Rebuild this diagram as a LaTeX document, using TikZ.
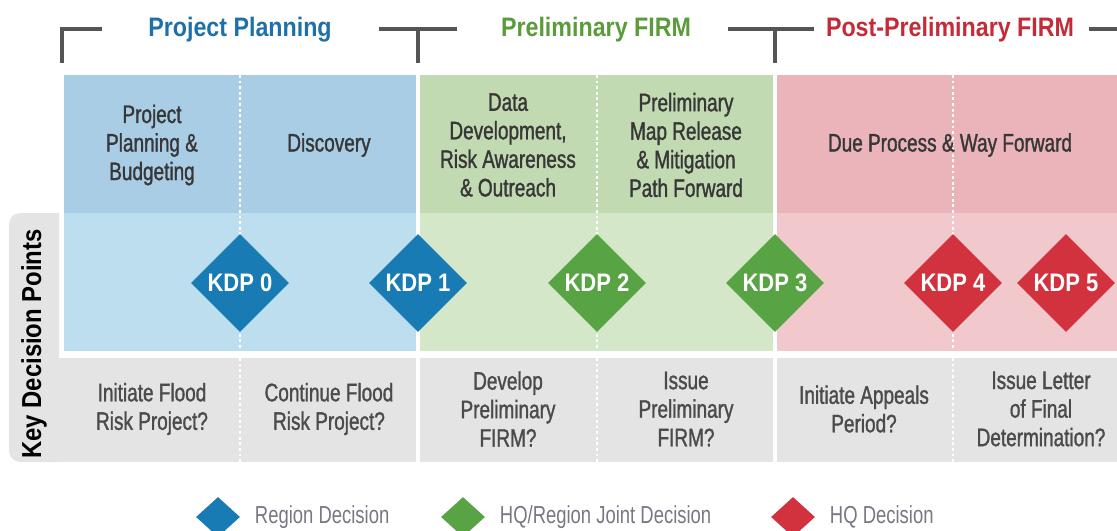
\documentclass[tikz,border=0pt]{standalone}
\usepackage{fontspec}
\setmainfont{Liberation Sans}
\newfontfamily\bodyfont{Liberation Sans}[FakeStretch=0.75,FakeBold=1.2]
\newfontfamily\legendfont{Liberation Sans}[FakeStretch=0.75]
\newfontfamily\headfont{Liberation Sans}[FakeStretch=0.87]
\usetikzlibrary{shapes.geometric}
\definecolor{hdrblue}{RGB}{30,112,170}
\definecolor{hdrgreen}{RGB}{90,156,58}
\definecolor{hdrred}{RGB}{196,42,55}
\definecolor{bluetop}{RGB}{168,205,228}
\definecolor{bluebot}{RGB}{189,222,238}
\definecolor{greentop}{RGB}{194,218,178}
\definecolor{greenbot}{RGB}{212,231,201}
\definecolor{redtop}{RGB}{234,180,186}
\definecolor{redbot}{RGB}{241,200,204}
\definecolor{rowgrey}{RGB}{228,228,228}
\definecolor{kdpblue}{RGB}{24,123,180}
\definecolor{kdpgreen}{RGB}{88,163,68}
\definecolor{kdpred}{RGB}{210,50,62}
\definecolor{textdark}{RGB}{55,55,55}
\definecolor{textrow}{RGB}{75,75,75}
\definecolor{textlegend}{RGB}{120,120,132}
\definecolor{bracketgrey}{RGB}{85,85,85}
\tikzset{
  phase/.style={font=\headfont\bfseries\fontsize{19}{22}\selectfont},
  bracket/.style={draw=bracketgrey,line width=2.8pt},
  steptext/.style={align=center,text=textdark,font=\bodyfont\fontsize{18}{20.3}\selectfont},
  asktext/.style={align=center,text=textrow,font=\bodyfont\fontsize{18}{20.3}\selectfont},
  kdp/.style={diamond,inner sep=0pt,minimum width=2.45cm,minimum height=2.45cm,text=white,font=\headfont\bfseries\fontsize{18}{20}\selectfont},
  legendmark/.style={diamond,inner sep=0pt,minimum width=1.1cm,minimum height=1cm},
  legendtext/.style={anchor=west,text=textlegend,font=\legendfont\fontsize{17.5}{20}\selectfont},
  divider/.style={white,line width=1.5pt,dash pattern=on 2pt off 2pt},
  gapline/.style={white,line width=3pt}
}
\begin{document}
\begin{tikzpicture}[x=0.025cm,y=-0.025cm]
  \useasboundingbox (0,0) rectangle (1117,531);
  \begin{scope}
    \clip (0,0) rectangle (59,531);
    \fill[rowgrey,rounded corners=8pt] (9,213) rectangle (90,462);
  \end{scope}
  \fill[rowgrey] (59,358) rectangle (1117,462);
  \fill[bluetop] (64,75) rectangle (416,213);
  \fill[bluebot] (64,213) rectangle (416,351);
  \fill[greentop] (420,75) rectangle (773,213);
  \fill[greenbot] (420,213) rectangle (773,351);
  \fill[redtop] (777,75) rectangle (1117,213);
  \fill[redbot] (777,213) rectangle (1117,351);
  \draw[divider] (240,75)--(240,351) (597,75)--(597,351) (953,75)--(953,351)
    (240,358)--(240,462) (597,358)--(597,462) (953,358)--(953,462);
  \draw[gapline] (418,358)--(418,462) (775,358)--(775,462);

  \draw[bracket] (62,63)--(62,29)--(102,29)
    (379,29)--(457,29) (418,29)--(418,63)
    (728,29)--(814,29) (775,29)--(775,63)
    (1089,29)--(1117,29);
  \node[phase,text=hdrblue] at (240,30) (planning) {Project Planning};
  \node[phase,text=hdrgreen] at (596,30) (prelim) {Preliminary FIRM};
  \node[phase,text=hdrred] at (950,30) (postprelim) {Post-Preliminary FIRM};

  \node[phase,rotate=90,text=black,font=\headfont\bfseries\fontsize{19.5}{22}\selectfont] at (34,344) (kdplabel) {Key Decision Points};

  \node[steptext] at (152,145) (budget) {Project\\Planning \&\\Budgeting};
  \node[steptext] at (329,145) (discovery) {Discovery};
  \node[steptext] at (508,145) (datadev) {Data\\Development,\\Risk Awareness\\\& Outreach};
  \node[steptext] at (686,145) (release) {Preliminary\\Map Release\\\& Mitigation\\Path Forward};
  \node[steptext] at (950,145) (dueprocess) {Due Process \& Way Forward};

  \node[kdp,fill=kdpblue] at (240,283) (kdp0) {KDP 0};
  \node[kdp,fill=kdpblue] at (418,283) (kdp1) {KDP 1};
  \node[kdp,fill=kdpgreen] at (597,283) (kdp2) {KDP 2};
  \node[kdp,fill=kdpgreen] at (775,283) (kdp3) {KDP 3};
  \node[kdp,fill=kdpred] at (953,283) (kdp4) {KDP 4};
  \node[kdp,fill=kdpred] at (1066,283) (kdp5) {KDP 5};

  \node[asktext] at (152,409) (ask0) {Initiate Flood\\Risk Project?};
  \node[asktext] at (329,409) (ask1) {Continue Flood\\Risk Project?};
  \node[asktext] at (508,409) (ask2) {Develop\\Preliminary\\FIRM?};
  \node[asktext] at (686,409) (ask3) {Issue\\Preliminary\\FIRM?};
  \node[asktext] at (864,409) (ask4) {Initiate Appeals\\Period?};
  \node[asktext] at (1041,409) (ask5) {Issue Letter\\of Final\\Determination?};

  \node[legendmark,fill=kdpblue] at (218,517) (regionmark) {};
  \node[legendtext] at (250,517) (regiontext) {Region Decision};
  \node[legendmark,fill=kdpgreen] at (463,517) (jointmark) {};
  \node[legendtext] at (495,517) (jointtext) {HQ/Region Joint Decision};
  \node[legendmark,fill=kdpred] at (793,517) (hqmark) {};
  \node[legendtext] at (825,517) (hqtext) {HQ Decision};
\end{tikzpicture}
\end{document}
